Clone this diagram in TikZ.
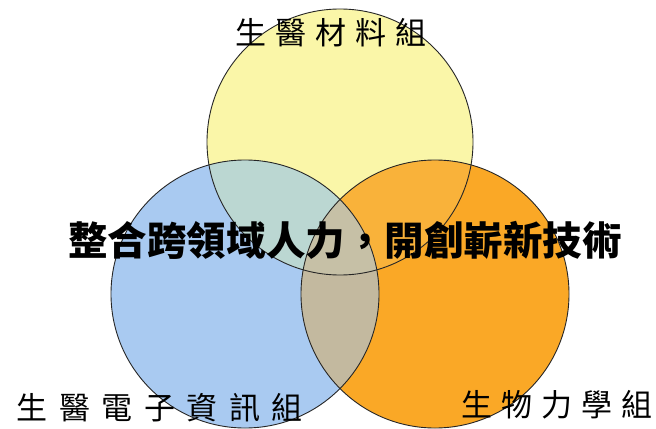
\documentclass[tikz,border=0pt]{standalone}
\usepackage{fontspec}
\newfontfamily\cjk{Noto Sans CJK TC}
\definecolor{cyel}{HTML}{FAF6A8}
\definecolor{cblu}{HTML}{A9CAF1}
\definecolor{cora}{HTML}{FAA826}
\definecolor{cyb}{HTML}{BBD7D2}
\definecolor{cyo}{HTML}{F9B23A}
\definecolor{cbo}{HTML}{C3B99F}
\definecolor{cybo}{HTML}{C6C0A6}
\newcommand\cjkgap{\hspace{9bp}}
\newcommand\cjkgapw{\hspace{11.5bp}}
\tikzset{
  outline/.style={draw=black!85, line width=0.9bp},
  lab/.style={inner sep=0pt, text=black, font=\cjk\fontsize{31bp}{36bp}\selectfont},
  midlab/.style={inner sep=0pt, text=black, font=\cjk\bfseries\fontsize{39.5bp}{44bp}\selectfont}
}
\begin{document}
\begin{tikzpicture}[x=1bp,y=1bp]
\useasboundingbox (0,0) rectangle (656,428);
\fill[white] (0,0) rectangle (656,428);
\coordinate (cY) at (340,286);
\coordinate (cB) at (245,134);
\coordinate (cO) at (435,134);
% base fills
\fill[cyel] (cY) circle[radius=133];
\fill[cblu] (cB) circle[radius=134];
\fill[cora] (cO) circle[radius=134];
% overlaps
\begin{scope}
  \clip (cY) circle[radius=133];
  \fill[cyb] (cB) circle[radius=134];
  \fill[cyo] (cO) circle[radius=134];
\end{scope}
\begin{scope}
  \clip (cB) circle[radius=134];
  \fill[cbo] (cO) circle[radius=134];
  \clip (cY) circle[radius=133];
  \fill[cybo] (cO) circle[radius=134];
\end{scope}
% outlines
\draw[outline] (cY) circle[radius=133];
\draw[outline] (cB) circle[radius=134];
\draw[outline] (cO) circle[radius=134];
% labels
\node[lab] (top) at (331,395) {生\cjkgap 醫\cjkgap 材\cjkgap 料\cjkgap 組};
\node[lab] (left) at (160,20) {生\cjkgapw 醫\cjkgapw 電\cjkgapw 子\cjkgapw 資\cjkgapw 訊\cjkgapw 組};
\node[lab] (right) at (557,23) {生\cjkgap 物\cjkgap 力\cjkgap 學\cjkgap 組};
\node[midlab] (mid) at (345,188) {整合跨領域人力，開創嶄新技術};
\end{tikzpicture}
\end{document}
